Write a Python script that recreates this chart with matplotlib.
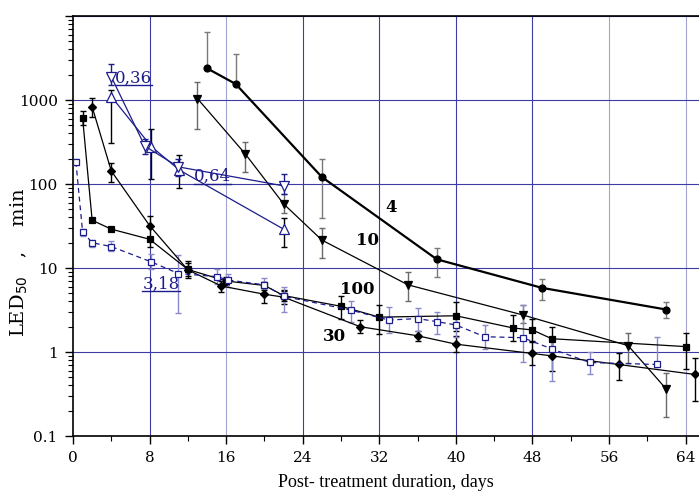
import matplotlib
matplotlib.use("Agg")
from matplotlib import pyplot as plt
from matplotlib.lines import Line2D
from matplotlib.ticker import FixedLocator, FuncFormatter, LogLocator, NullFormatter
import numpy as np

# ---- data ----
# dose 4 (circles, thick line)
d4_x = [14, 17, 26, 38, 49, 62]
d4_y = [2385, 1550, 121, 12.7, 5.8, 3.2]
d4_hi = [6500, 3500, 200, 17.2, 7.3, 3.9]
d4_lo = [2385, 1550, 39, 7.8, 4.2, 2.55]

# dose 10 (filled down triangles)
d10_x = [13, 18, 22, 26, 35, 47, 58, 62]
d10_y = [1040, 228, 58, 21.5, 6.3, 2.76, 1.19, 0.36]
d10_hi = [1650, 319, 75, 30, 8.9, 3.66, 1.67, 0.56]
d10_lo = [448, 138, 45, 13, 4.0, 2.2, 0.74, 0.17]

# dose 100 (filled squares)
d100_x = [1, 2, 4, 8, 12, 16, 20, 22, 28, 32, 40, 46, 48, 50, 64]
d100_y = [615, 37, 29, 22, 9.6, 7.0, 6.2, 4.7, 3.5, 2.6, 2.7, 1.93, 1.83, 1.44, 1.16]
d100_hi = [740, 39, 30, 23.6, 12.2, 7.8, 6.9, 5.3, 4.6, 3.6, 3.9, 2.75, 2.5, 2.0, 1.7]
d100_lo = [510, 35, 28, 18, 7.7, 6.2, 5.5, 4.1, 2.45, 1.64, 1.8, 1.35, 1.35, 1.0, 0.62]

# dose 30 (filled diamonds)
d30_x = [2, 4, 8, 12, 15.5, 20, 22, 30, 36, 40, 48, 50, 57, 65]
d30_y = [830, 143, 32, 9.5, 6.1, 4.87, 4.5, 2.0, 1.56, 1.24, 0.96, 0.90, 0.71, 0.54]
d30_hi = [1050, 176, 41.6, 11.5, 7.0, 5.8, 5.5, 2.4, 1.8, 1.55, 1.3, 1.35, 0.98, 0.84]
d30_lo = [630, 107, 23.6, 8.0, 5.2, 3.8, 3.7, 1.7, 1.35, 1.0, 0.7, 0.6, 0.46, 0.26]

# 3,18 (open squares, dashed blue)
s318_x = [0.3, 1, 2, 4, 8.2, 11, 15, 16.2, 20, 22, 29, 33, 36, 38, 40, 43, 47, 50, 54, 61]
s318_y = [184, 27, 20, 18, 11.8, 8.6, 7.9, 7.2, 6.3, 4.6, 3.16, 2.4, 2.5, 2.3, 2.1,
          1.52, 1.48, 1.09, 0.75, 0.71]
s318_hi = [200, 29, 21.5, 21, 14.5, 14.3, 9.6, 8.6, 7.6, 5.9, 4.1, 3.4, 3.3, 3.0, 2.6,
           2.1, 3.6, 1.4, 1.0, 1.5]
s318_lo = [170, 24, 18, 16, 9.8, 2.9, 6.5, 5.9, 5.1, 3.0, 2.3, 1.7, 1.8, 1.65, 1.5,
           1.1, 0.77, 0.45, 0.55, 0.67]

# 0,36 (open down triangles, blue)
s036_x = [4, 7.5, 11, 22]
s036_y = [1890, 283, 160, 95]
s036_hi = [2680, 340, 200, 130]
s036_lo = [1500, 230, 125, 75]

# 0,64 (open up triangles, blue)
s064_x = [4, 8.2, 11.1, 22]
s064_y = [1100, 278, 147, 29]
s064_hi = [1300, 447, 220, 39]
s064_lo = [305, 114, 89, 18]

x_ticks = [0, 8, 16, 24, 32, 40, 48, 56, 64]
y_ticks = [0.1, 1, 10, 100, 1000, 10000]
pale_grid_x = [16, 56, 64]

navy = "#1c1c8c"
pale = "#8a8ac8"
gridc = "#3c3ca4"
gridlight = "#a4a4d4"

plt.rcParams['font.family'] = ['DejaVu Serif']

fig = plt.figure(figsize=(6.99, 4.95), dpi=100)
ax = fig.add_axes([73 / 699, 59 / 495, 626 / 699, 420 / 495])


def series(x, y, lo, hi, marker, color, ecolor, lw=0.9, ls='-', mfc=None, ms=5):
    y = np.array(y)
    err = [y - np.array(lo), np.array(hi) - y]
    ax.errorbar(x, y, yerr=err, fmt='none', ecolor=ecolor, elinewidth=1.0,
                capsize=2.5, capthick=1.0, zorder=3)
    ax.plot(x, y, ls=ls, color=color, lw=lw, marker=marker, ms=ms,
            mfc=mfc if mfc else color, mec=color, mew=0.9, zorder=4)


series(d4_x, d4_y, d4_lo, d4_hi, 'o', 'black', '#7a7a7a', lw=1.6, ms=5)
series(d10_x, d10_y, d10_lo, d10_hi, 'v', 'black', '#6a6a6a', ms=6)
series(d100_x, d100_y, d100_lo, d100_hi, 's', 'black', 'black', ms=4.5)
series(d30_x, d30_y, d30_lo, d30_hi, 'D', 'black', 'black', ms=4.5)
series(s318_x, s318_y, s318_lo, s318_hi, 's', navy, pale, ls=(0, (4, 3)), mfc='white', ms=5)
series(s064_x, s064_y, s064_lo, s064_hi, '^', navy, 'black', mfc='white', ms=7)
series(s036_x, s036_y, s036_lo, s036_hi, 'v', navy, navy, mfc='white', ms=7)

ax.set_yscale('log')
ax.set_xlim(0, 65.4)
ax.set_ylim(0.1, 10000)

ax.xaxis.set_major_locator(FixedLocator(x_ticks))
ax.xaxis.set_minor_locator(FixedLocator(np.arange(4, 65, 8)))
ax.yaxis.set_major_locator(FixedLocator(y_ticks))
ax.yaxis.set_minor_locator(LogLocator(base=10, subs=np.arange(2, 10)))
ax.yaxis.set_minor_formatter(NullFormatter())
ax.yaxis.set_major_formatter(FuncFormatter(
    lambda v, p: '' if v > 5000 else ('0.1' if v < 0.5 else '%d' % v)))

ax.tick_params(which='major', direction='out', length=6, width=1, labelsize=11, pad=5)
ax.tick_params(which='minor', direction='out', length=3.5, width=0.8)
ax.tick_params(axis='x', which='both', top=False)
ax.tick_params(axis='y', which='both', right=False)

# grid: horizontal at decades, vertical every 8 days (a few paler ones)
ax.grid(True, axis='y', which='major', color=gridc, lw=0.8)
for xv in x_ticks[1:]:
    ax.axvline(xv, color=gridlight if xv in pale_grid_x else gridc, lw=0.8, zorder=0.5)
ax.spines['right'].set_visible(False)
for sp in ['left', 'bottom', 'top']:
    ax.spines[sp].set_linewidth(1.2)

ax.set_xlabel('Post- treatment duration, days', fontsize=13,
              family=['Liberation Serif'], labelpad=6)
ax.set_ylabel('LED$_{50}$   ,    min', fontsize=14, va='center')
ax.yaxis.set_label_coords(-0.086, 0.414)

# dose labels
for txt, tx, ty in [('4', 33.2, 52), ('10', 30.8, 21.5), ('100', 29.7, 5.5), ('30', 27.3, 1.55)]:
    ax.text(tx, ty, txt, fontsize=12, fontweight='bold', ha='center', va='center', zorder=6)

# blue underlined labels
blue_labels = []
for txt, tx, ty in [('0,36', 6.3, 1830), ('0,64', 14.6, 124), ('3,18', 9.2, 6.45)]:
    t = ax.text(tx, ty, txt, fontsize=12, color=navy, ha='center', va='center', zorder=6)
    blue_labels.append(t)

fig.canvas.draw()
inv = fig.transFigure.inverted()
for t in blue_labels:
    bb = t.get_window_extent()
    (x0, y0), (x1, _) = inv.transform([(bb.x0, bb.y0 + 1), (bb.x1, bb.y0 + 1)])
    fig.add_artist(Line2D([x0, x1], [y0, y0], color=navy, lw=1.0))

fig.savefig('out.png', dpi=100)
